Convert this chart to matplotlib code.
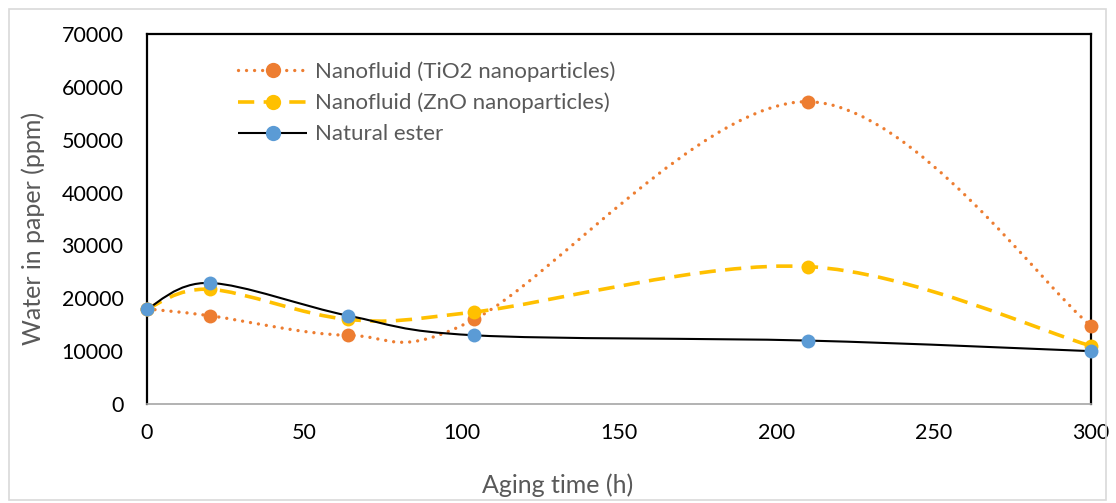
import matplotlib
matplotlib.use("Agg")
import matplotlib.pyplot as plt
from matplotlib.path import Path
from matplotlib.patches import PathPatch, Rectangle
from matplotlib.lines import Line2D
import numpy as np

plt.rcParams['font.family'] = ['Lato', 'DejaVu Sans']

# aging time (h)
aging_h = [0, 20, 64, 104, 210, 300]
tio2 = [18000, 16700, 13000, 16000, 57200, 14800]
zno = [18000, 21700, 16000, 17400, 26000, 11000]
natural = [18000, 22900, 16700, 13000, 12000, 10000]

labels = ["Nanofluid (TiO2 nanoparticles)",
          "Nanofluid (ZnO nanoparticles)",
          "Natural ester"]
line_cols = ["#ED7D31", "#FFC000", "#000000"]
mark_cols = ["#ED7D31", "#FFC000", "#5B9BD5"]


def smooth_path(xs, ys):
    # Excel-like smoothed line: cubic bezier segments through the points
    p = np.column_stack([xs, ys]).astype(float)
    n = len(p)
    verts = [p[0]]
    codes = [Path.MOVETO]
    for i in range(n - 1):
        p0 = p[i - 1] if i > 0 else p[i]
        p3 = p[i + 2] if i + 2 < n else p[i + 1]
        c1 = p[i] + (p[i + 1] - p0) / 6.0
        c2 = p[i + 1] - (p3 - p[i]) / 6.0
        verts += [c1, c2, p[i + 1]]
        codes += [Path.CURVE4] * 3
    return Path(verts, codes)


W, H = 1116, 503
fig = plt.figure(figsize=(W / 100, H / 100), dpi=100)
ax = fig.add_axes([147 / W, 1 - 404 / H, (1091 - 147) / W, (404 - 34) / H])

styles = [
    dict(linestyle=(0, (0.01, 2.4)), linewidth=2.4, capstyle='round'),
    dict(linestyle=(0, (4.5, 2.6)), linewidth=2.6, capstyle='butt'),
    dict(linestyle='-', linewidth=1.5, capstyle='butt'),
]

series = [tio2, zno, natural]
handles = []
for k, ys in enumerate(series):
    st = styles[k]
    patch = PathPatch(smooth_path(aging_h, ys), facecolor='none',
                      edgecolor=line_cols[k], linewidth=st['linewidth'],
                      linestyle=st['linestyle'], capstyle=st['capstyle'],
                      zorder=2 + k)
    ax.add_patch(patch)
    ax.plot(aging_h, ys, linestyle='none', marker='o', markersize=10,
            color=mark_cols[k], markeredgewidth=0, zorder=5 + k, clip_on=False)
    h = Line2D([], [], color=line_cols[k], linewidth=st['linewidth'],
               linestyle=st['linestyle'], marker='o', markersize=11,
               markerfacecolor=mark_cols[k], markeredgewidth=0,
               solid_capstyle='butt', dash_capstyle=st['capstyle'])
    handles.append(h)

ax.set_xlim(0, 300)
ax.set_ylim(0, 70000)
ax.set_xticks(range(0, 301, 50))
ax.set_yticks(range(0, 70001, 10000))
ax.tick_params(length=0, labelsize=15.5, colors='black')
ax.tick_params(axis='y', pad=17)
ax.tick_params(axis='x', pad=14)

for s in ['left', 'right', 'top']:
    ax.spines[s].set_color('black')
    ax.spines[s].set_linewidth(1.6)
ax.spines['bottom'].set_color('#A6A6A6')
ax.spines['bottom'].set_linewidth(1.2)

# axis titles placed like the Excel chart
fig.text(558 / W, 1 - 485 / H, "Aging time (h)", fontsize=18, color='#595959',
         ha='center', va='center')
fig.text(33 / W, 1 - 228 / H, "Water in paper (ppm)", fontsize=18,
         color='#595959', ha='center', va='center', rotation=90)

leg = ax.legend(handles, labels, loc='upper left', bbox_to_anchor=(0.078, 0.975),
                frameon=False, fontsize=16, handlelength=3.1, labelspacing=0.5,
                handletextpad=0.36, borderpad=0.3)
for t in leg.get_texts():
    t.set_color('#595959')

fig.patches.append(Rectangle((9 / W, 1 - 500 / H), 1097 / W, 491 / H,
                             transform=fig.transFigure, fill=False,
                             edgecolor='#D9D9D9', linewidth=1.2))

fig.savefig("out.png", dpi=100)
